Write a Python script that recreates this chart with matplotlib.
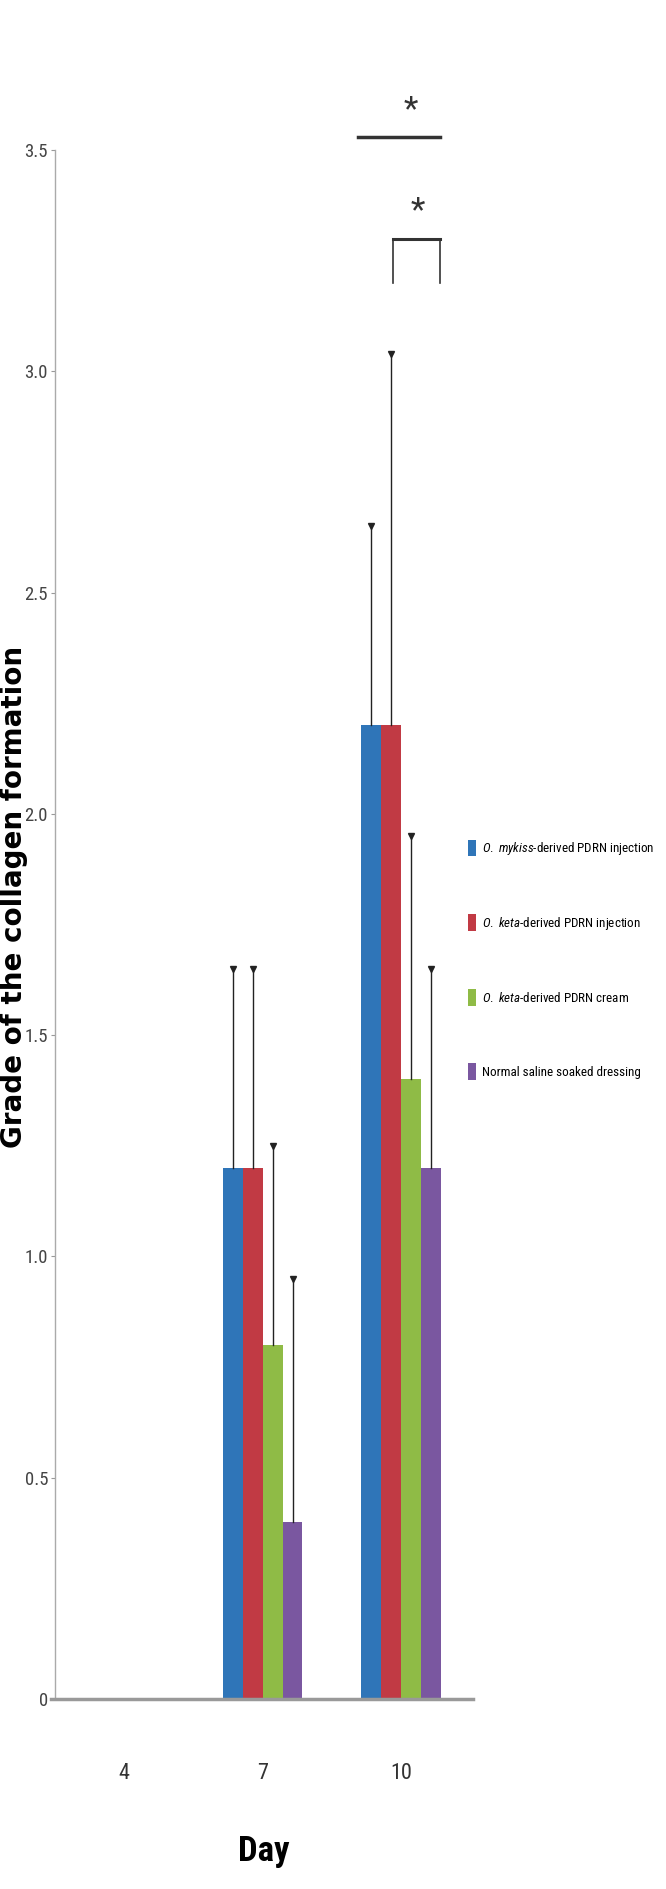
import matplotlib
matplotlib.use("Agg")
import matplotlib.pyplot as plt
import matplotlib.patches as mpatches
from matplotlib import font_manager
import numpy as np

# -------------------------------
# Data
# -------------------------------
days = ["4", "7", "10"]
groups = [
    r"$\mathit{O.\ mykiss}$-derived PDRN injection",
    r"$\mathit{O.\ keta}$-derived PDRN injection",
    r"$\mathit{O.\ keta}$-derived PDRN cream",
    "Normal saline soaked dressing",
]
mykiss_inj = [0.0, 1.2, 2.2]
keta_inj = [0.0, 1.2, 2.2]
keta_cream = [0.0, 0.8, 1.4]
saline = [0.0, 0.4, 1.2]
mykiss_err = [0.0, 0.45, 0.45]
keta_inj_err = [0.0, 0.45, 0.84]
keta_cream_err = [0.0, 0.45, 0.55]
saline_err = [0.0, 0.55, 0.45]
y_ticks = [0, 0.5, 1.0, 1.5, 2.0, 2.5, 3.0, 3.5]
y_tick_labels = ["0", "0.5", "1.0", "1.5", "2.0", "2.5", "3.0", "3.5"]

colors = ["#2f75b8", "#c13a44", "#8fbb46", "#7a57a0"]

# pick a narrow font if one is installed
names = {f.name for f in font_manager.fontManager.ttflist}
narrow = "Liberation Sans"
for cand in ["Liberation Sans Narrow", "DejaVu Sans Condensed", "Roboto Condensed",
             "Open Sans Condensed", "Liberation Sans"]:
    if cand in names:
        narrow = cand
        break
plt.rcParams["mathtext.fontset"] = "custom"
plt.rcParams["mathtext.it"] = narrow + ":italic"
plt.rcParams["mathtext.rm"] = narrow

fig = plt.figure(figsize=(6.66, 18.89), dpi=100)
ax = fig.add_axes([55 / 666, 1 - 1699 / 1889, 418 / 666, 1549 / 1889])

x = np.arange(len(days))
w = 0.144
series = [mykiss_inj, keta_inj, keta_cream, saline]
errs = [mykiss_err, keta_inj_err, keta_cream_err, saline_err]
for i, (vals, er) in enumerate(zip(series, errs)):
    xs = x + (i - 1.5) * w
    ax.bar(xs, vals, width=w, color=colors[i], edgecolor="none", zorder=2)
    for xi, v, e in zip(xs, vals, er):
        if v > 0:
            ax.plot([xi, xi], [v, v + e], color="#222222", lw=1.0, zorder=3)
            ax.plot(xi, v + e, marker="v", color="#222222", ms=4, zorder=3)

ax.set_xlim(-0.5, 2.52)
ax.set_ylim(0, 3.5)

# axes styling
for s in ["top", "right", "bottom"]:
    ax.spines[s].set_visible(False)
ax.spines["left"].set_color("#aaaaaa")
ax.spines["left"].set_linewidth(1.0)
ax.plot([-0.53, 2.52], [0, 0], color="#999999", lw=2.5, clip_on=False, zorder=4)

ax.set_yticks(y_ticks)
ax.set_yticklabels(y_tick_labels, fontfamily=narrow, fontsize=13.5, color="#444444")
ax.tick_params(axis="y", length=3, color="#999999", pad=2)
ax.set_xticks(x)
ax.set_xticklabels(days, fontfamily=narrow, fontsize=16, color="#333333")
ax.tick_params(axis="x", length=0, pad=46)

fig.text(0.0, 1 - 897 / 1889, "Grade of the collagen formation", rotation=90,
         ha="left", va="center", fontfamily="DejaVu Sans", fontweight="bold",
         fontsize=20, color="black")
ax.set_xlabel("Day", fontfamily=narrow, fontweight="bold", fontsize=25)
ax.xaxis.set_label_coords(0.5, -0.088)

# significance markers
ax.plot([1.69, 2.28], [3.53, 3.53], color="#333333", lw=2.5, clip_on=False)
ax.text(2.07, 3.555, "*", ha="center", va="bottom", fontsize=24, fontfamily=narrow, color="#333333")
ax.plot([1.94, 1.94, 2.28, 2.28], [3.20, 3.30, 3.30, 3.20], color="#333333", lw=1.2, clip_on=False)
ax.plot([1.94, 2.28], [3.30, 3.30], color="#333333", lw=2.2, clip_on=False)
ax.text(2.12, 3.325, "*", ha="center", va="bottom", fontsize=24, fontfamily=narrow, color="#333333")

# legend: size the text so the longest label fits the right margin
fig.canvas.draw()
r = fig.canvas.get_renderer()
probe = fig.text(0, 0, groups[0], fontfamily=narrow, fontsize=12)
pw = probe.get_window_extent(r).width
probe.remove()
fs = min(12, 12 * 172 / pw)
fs_px = fs * 100 / 72
pitch = 78.0
handles = [mpatches.Patch(facecolor=c, edgecolor="none", label=g) for c, g in zip(colors, groups)]
fig.legend(handles=handles, loc="upper left",
           bbox_to_anchor=(468 / 666, 1 - (850 - 0.8 * fs_px) / 1889),
           frameon=False, prop={"family": narrow, "size": fs}, handlelength=0.6,
           handleheight=1.6, handletextpad=0.5, labelspacing=pitch / fs_px - 1.6,
           borderaxespad=0, borderpad=0)

fig.savefig("out.png", dpi=100)
